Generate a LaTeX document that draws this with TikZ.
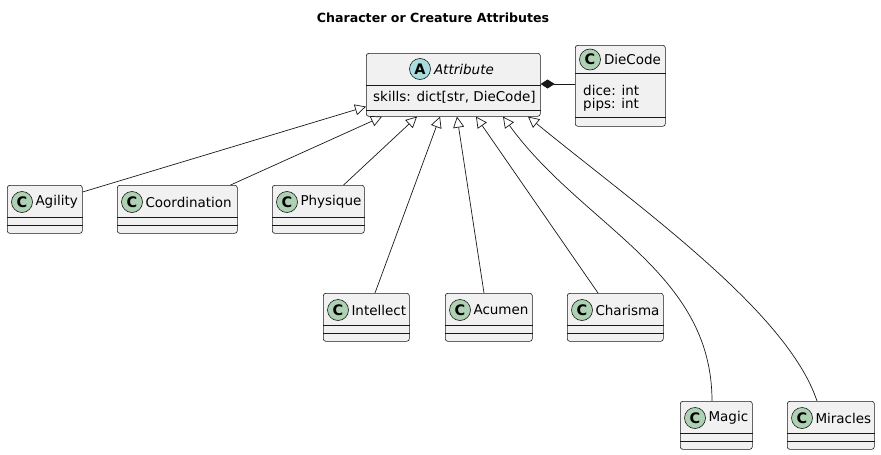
\documentclass[tikz,border=0pt]{standalone}
\usepackage{fontspec}
\setmainfont{DejaVu Sans}
\usepackage{tikz}
\usepackage{xcolor}
\usetikzlibrary{arrows.meta,positioning,calc}
\definecolor{umlborder}{HTML}{181818}
\definecolor{umlfill}{HTML}{F1F1F1}
\definecolor{classgreen}{HTML}{ADD1B2}
\definecolor{abstractblue}{HTML}{A9DCDF}
\tikzset{
  classbox/.style={
    draw=umlborder,
    fill=umlfill,
    rounded corners=2.5pt,
    line width=0.6pt,
    inner sep=0pt,
    anchor=north west,
    minimum height=48pt
  },
  classline/.style={draw=umlborder, line width=0.6pt},
  badge/.style={
    circle,
    draw=umlborder,
    line width=0.6pt,
    minimum size=21pt,
    inner sep=0pt,
    font=\fontsize{14.5}{14.5}\selectfont\bfseries
  },
  classname/.style={anchor=west, inner sep=0pt, font=\fontsize{13.5}{16}\selectfont},
  fieldtext/.style={anchor=west, inner sep=0pt, font=\fontsize{13.5}{16}\selectfont},
  extendsarrow/.style={-{Triangle[length=11pt, width=11pt, fill=white]}, draw=umlborder, line width=0.7pt},
  composearrow/.style={-{Diamond[length=14pt, width=9pt]}, draw=umlborder, line width=0.7pt}
}

\begin{document}
\begin{tikzpicture}[x=1pt, y=-1pt]
\useasboundingbox (0,0) rectangle (881,455);
\node[font=\fontsize{12.6}{15}\selectfont\bfseries] (title) at (433,18) {Character or Creature Attributes};

% abstract parent
\node[classbox, minimum width=174pt, minimum height=63pt] (attr) at (366,53) {};
\draw[classline] ([yshift=-32pt]attr.north west) -- ([yshift=-32pt]attr.north east);
\draw[classline] ([yshift=-57pt]attr.north west) -- ([yshift=-57pt]attr.north east);
\node[badge, fill=abstractblue] (attr-c) at (420,69) {A};
\node[classname, right=3pt of attr-c] (attr-t) {\itshape Attribute};
\node[fieldtext] (attr-f) at ([xshift=7pt, yshift=-44pt]attr.north west) {skills: dict[str, DieCode]};

% die code
\node[classbox, minimum width=90pt, minimum height=81pt] (die) at (575,45) {};
\draw[classline] ([yshift=-28pt]die.north west) -- ([yshift=-28pt]die.north east);
\draw[classline] ([yshift=-72pt]die.north west) -- ([yshift=-72pt]die.north east);
\node[badge, fill=classgreen] (die-c) at ([xshift=15pt, yshift=-14.5pt]die.north west) {C};
\node[classname, right=3pt of die-c] (die-t) {DieCode};
\node[fieldtext] (die-f1) at ([xshift=8pt, yshift=-45pt]die.north west) {dice: int};
\node[fieldtext] (die-f2) at ([xshift=8pt, yshift=-60pt]die.north west) {pips: int};

% attribute kinds
\foreach \name/\x/\y/\w/\txt in {agility/7/185/75/Agility, coordination/117/185/120/Coordination,
    physique/272/185/92/Physique, intellect/323/293/86/Intellect, acumen/445/293/87/Acumen,
    charisma/567/293/96/Charisma, magic/680/401/72/Magic, miracles/787/401/87/Miracles} {
  \node[classbox, minimum width=\w pt] (\name) at (\x,\y) {};
  \draw[classline] ([yshift=-32pt]\name.north west) -- ([yshift=-32pt]\name.north east);
  \draw[classline] ([yshift=-40pt]\name.north west) -- ([yshift=-40pt]\name.north east);
  \node[badge, fill=classgreen] (\name-c) at ([xshift=15pt, yshift=-17pt]\name.north west) {C};
  \node[classname, right=2.5pt of \name-c] (\name-t) {\txt};
}

\draw[composearrow] ([yshift=-39pt]die.north west) -- ([yshift=-31pt]attr.north east);

\draw[extendsarrow] ([yshift=-7pt]agility.north east) -- ([yshift=10pt]attr.south west);
\draw[extendsarrow] ([xshift=-7pt]coordination.north east) -- ([xshift=16pt]attr.south west);
\draw[extendsarrow] ([xshift=-21pt]physique.north east) -- ([xshift=51pt]attr.south west);
\draw[extendsarrow] ([xshift=52pt]intellect.north west) -- ([xshift=74pt]attr.south west);
\draw[extendsarrow] ([xshift=39pt]acumen.north west) -- ([xshift=91pt]attr.south west);
\draw[extendsarrow] ([xshift=31pt]charisma.north west) -- ([xshift=110pt]attr.south west);
\draw[extendsarrow] ([xshift=32pt]magic.north west) .. controls +(0,-130) and +(80,110) .. ([xshift=137pt]attr.south west);
\draw[extendsarrow] ([xshift=30pt]miracles.north west) .. controls +(-30,-90) and +(110,90) .. ([xshift=162pt]attr.south west);
\end{tikzpicture}
\end{document}
